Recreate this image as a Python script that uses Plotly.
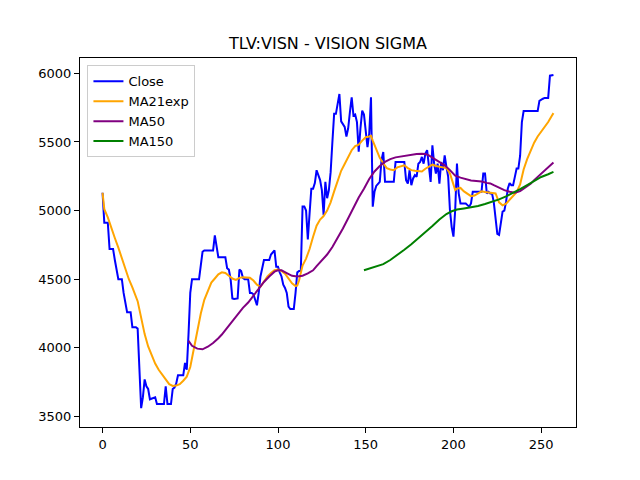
import plotly.graph_objects as go

# Close prices, one per trading day (index 0..257)
close = [
    5130, 4912, 4912, 4912, 4720, 4720, 4720, 4640, 4560, 4500,
    4500, 4500, 4400, 4330, 4260, 4260, 4260, 4150, 4150, 4150,
    4140, 3870, 3560, 3640, 3770, 3720, 3700, 3625, 3630, 3640,
    3640, 3590, 3590, 3590, 3590, 3590, 3720, 3590, 3590, 3590,
    3700, 3710, 3740, 3800, 3800, 3800, 3800, 3890, 3840, 4100,
    4400, 4500, 4500, 4500, 4500, 4500, 4600, 4700, 4710, 4710,
    4710, 4710, 4710, 4710, 4820, 4740, 4660, 4660, 4660, 4660,
    4660, 4580, 4570, 4500, 4360, 4356, 4356, 4360, 4570, 4560,
    4510, 4500, 4500, 4500, 4400, 4400, 4390, 4350, 4310, 4400,
    4520, 4580, 4640, 4640, 4640, 4640, 4680, 4700, 4710, 4590,
    4590, 4550, 4520, 4460, 4436, 4400, 4300, 4283, 4283, 4283,
    4400, 4550, 4560, 4560, 5030, 5030, 5000, 4790, 4980, 5160,
    5160, 5200, 5294, 5260, 5222, 5149, 4968, 5210, 5090, 5150,
    5280, 5500, 5705, 5705, 5780, 5850, 5650, 5633, 5610, 5540,
    5600, 5720, 5826, 5693, 5700, 5645, 5430, 5600, 5729, 5700,
    5600, 5463, 5560, 5826, 5028, 5137, 5180, 5200, 5210, 5367,
    5427, 5210, 5210, 5210, 5210, 5210, 5210, 5355, 5355, 5355,
    5355, 5355, 5355, 5222, 5197, 5294, 5185, 5234, 5258, 5246,
    5342, 5354, 5391, 5342, 5415, 5440, 5318, 5209, 5475, 5342,
    5270, 5342, 5197, 5354, 5294, 5403, 5318, 5246, 5004, 4880,
    4810, 5004, 5342, 5125, 5052, 5052, 5052, 5052, 5040, 5028,
    5052, 5137, 5137, 5137, 5137, 5137, 5137, 5270, 5270, 5125,
    5137, 5125, 5125, 5060, 4920, 4830, 4823, 4900, 4992, 5000,
    5065, 5161, 5200, 5185, 5185, 5246, 5306, 5306, 5400, 5645,
    5725, 5725, 5725, 5725, 5725, 5725, 5725, 5725, 5725, 5800,
    5810, 5815, 5821, 5821, 5821, 5983, 5988, 5988,
]
days = list(range(len(close)))

# 21-day exponential average
ema_days = [
    0, 1, 3, 5, 7, 9, 11, 13, 15, 17, 19, 20, 22, 24, 26, 28, 30, 32, 34, 36,
    38, 40, 42, 44, 46, 48, 50, 52, 54, 56, 58, 60, 62, 64, 66, 68, 70, 72, 74, 76,
    78, 80, 82, 84, 86, 88, 90, 92, 94, 96, 98, 100, 102, 104, 106, 108, 110, 111, 112, 114,
    116, 118, 120, 122, 124, 126, 128, 130, 132, 134, 136, 138, 140, 142, 144, 146, 148, 150, 152, 153,
    154, 156, 158, 160, 162, 164, 166, 168, 170, 172, 174, 176, 178, 180, 182, 184, 186, 188, 190, 192,
    194, 196, 198, 200, 201, 202, 204, 206, 208, 210, 212, 214, 216, 218, 220, 222, 224, 226, 228, 230,
    232, 234, 236, 238, 240, 242, 244, 246, 248, 250, 252, 254, 256, 257,
]
ema_vals = [
    5130, 5010, 4950, 4870, 4800, 4730, 4650, 4570, 4500, 4440, 4380, 4340, 4220, 4100, 4010, 3940, 3885, 3840, 3800, 3770,
    3735, 3722, 3725, 3735, 3760, 3790, 3860, 4000, 4130, 4250, 4350, 4420, 4475, 4505, 4535, 4550, 4545, 4525, 4505, 4495,
    4510, 4515, 4512, 4510, 4490, 4460, 4445, 4480, 4520, 4545, 4565, 4570, 4560, 4540, 4505, 4470, 4450, 4455, 4490, 4600,
    4650, 4720, 4810, 4890, 4935, 4960, 5000, 5060, 5140, 5220, 5290, 5340, 5390, 5440, 5470, 5480, 5510, 5535, 5540, 5545,
    5510, 5440, 5385, 5345, 5310, 5300, 5295, 5315, 5325, 5330, 5310, 5295, 5290, 5285, 5285, 5305, 5320, 5335, 5325, 5320,
    5318, 5310, 5270, 5195, 5150, 5160, 5165, 5140, 5120, 5105, 5110, 5125, 5140, 5135, 5130, 5128, 5125, 5060, 5038, 5050,
    5077, 5105, 5135, 5190, 5300, 5375, 5440, 5495, 5540, 5575, 5610, 5645, 5690, 5710,
]

# 50-day simple average
ma50_days = [
    49, 51, 54, 57, 60, 63, 66, 68, 71, 74, 77, 80, 83, 86, 89, 92, 95, 98, 100, 102,
    105, 108, 111, 114, 117, 120, 122, 125, 128, 131, 134, 137, 140, 143, 146, 149, 152, 155, 158, 161,
    164, 167, 170, 173, 176, 179, 182, 184, 186, 189, 192, 195, 198, 201, 204, 207, 210, 213, 216, 219,
    221, 223, 226, 229, 232, 235, 238, 241, 244, 246, 249, 252, 255, 257,
]
ma50_vals = [
    4050, 4015, 3994, 3989, 4008, 4035, 4070, 4097, 4146, 4194, 4243, 4291, 4330, 4380, 4430, 4480, 4520, 4555, 4565, 4565,
    4545, 4525, 4520, 4525, 4542, 4565, 4595, 4641, 4680, 4735, 4800, 4870, 4944, 5020, 5095, 5160, 5230, 5285, 5325, 5355,
    5375, 5388, 5395, 5400, 5408, 5412, 5415, 5412, 5403, 5378, 5354, 5330, 5295, 5255, 5240, 5230, 5220, 5216, 5212, 5202,
    5198, 5185, 5166, 5149, 5137, 5130, 5142, 5170, 5195, 5222, 5258, 5294, 5330, 5350,
]

# 150-day simple average
ma150_days = [
    149, 152, 156, 160, 164, 168, 172, 176, 180, 184, 188, 192, 196, 199, 202,
    206, 210, 214, 218, 222, 226, 230, 234, 238, 242, 246, 250, 254, 257,
]
ma150_vals = [
    4565, 4578, 4592, 4610, 4640, 4675, 4715, 4755, 4798, 4842, 4888, 4935, 4975, 4995, 5008,
    5016, 5023, 5034, 5048, 5064, 5082, 5103, 5128, 5156, 5185, 5215, 5245, 5265, 5282,
]

x_ticks = [0, 50, 100, 150, 200, 250]
y_ticks = [3500, 4000, 4500, 5000, 5500, 6000]

fig = go.Figure()
fig.add_trace(go.Scatter(x=days, y=close, mode="lines", name="Close",
                         line=dict(color="blue", width=2)))
fig.add_trace(go.Scatter(x=ema_days, y=ema_vals, mode="lines", name="MA21exp",
                         line=dict(color="orange", width=2)))
fig.add_trace(go.Scatter(x=ma50_days, y=ma50_vals, mode="lines", name="MA50",
                         line=dict(color="purple", width=2)))
fig.add_trace(go.Scatter(x=ma150_days, y=ma150_vals, mode="lines", name="MA150",
                         line=dict(color="green", width=2)))

axis_style = dict(
    showgrid=False, zeroline=False,
    showline=True, linecolor="black", linewidth=1, mirror=True,
    ticks="outside", ticklen=5, tickcolor="black",
    tickfont=dict(family="DejaVu Sans", size=13, color="black"),
)

# the page adds an 8px body margin, so the margins are shifted to compensate
fig.update_layout(
    width=640, height=480,
    margin=dict(l=72, r=72, t=50, b=61),
    paper_bgcolor="white", plot_bgcolor="white",
    font=dict(family="DejaVu Sans", color="black"),
    title=dict(text="TLV:VISN - VISION SIGMA", x=0.5, xref="paper",
               y=1 - 35 / 480, yref="container", yanchor="middle",
               font=dict(family="DejaVu Sans", size=16, color="black")),
    xaxis=dict(range=[-12.85, 269.85], tickvals=x_ticks, **axis_style),
    yaxis=dict(range=[3423, 6112], tickvals=y_ticks, **axis_style),
    legend=dict(x=0.015, y=0.98, xanchor="left", yanchor="top",
                bgcolor="rgba(255,255,255,0.8)", bordercolor="#cccccc", borderwidth=1,
                font=dict(family="DejaVu Sans", size=13, color="black"),
                itemwidth=30, tracegroupgap=0),
    showlegend=True,
)

fig.write_html("out.html")
